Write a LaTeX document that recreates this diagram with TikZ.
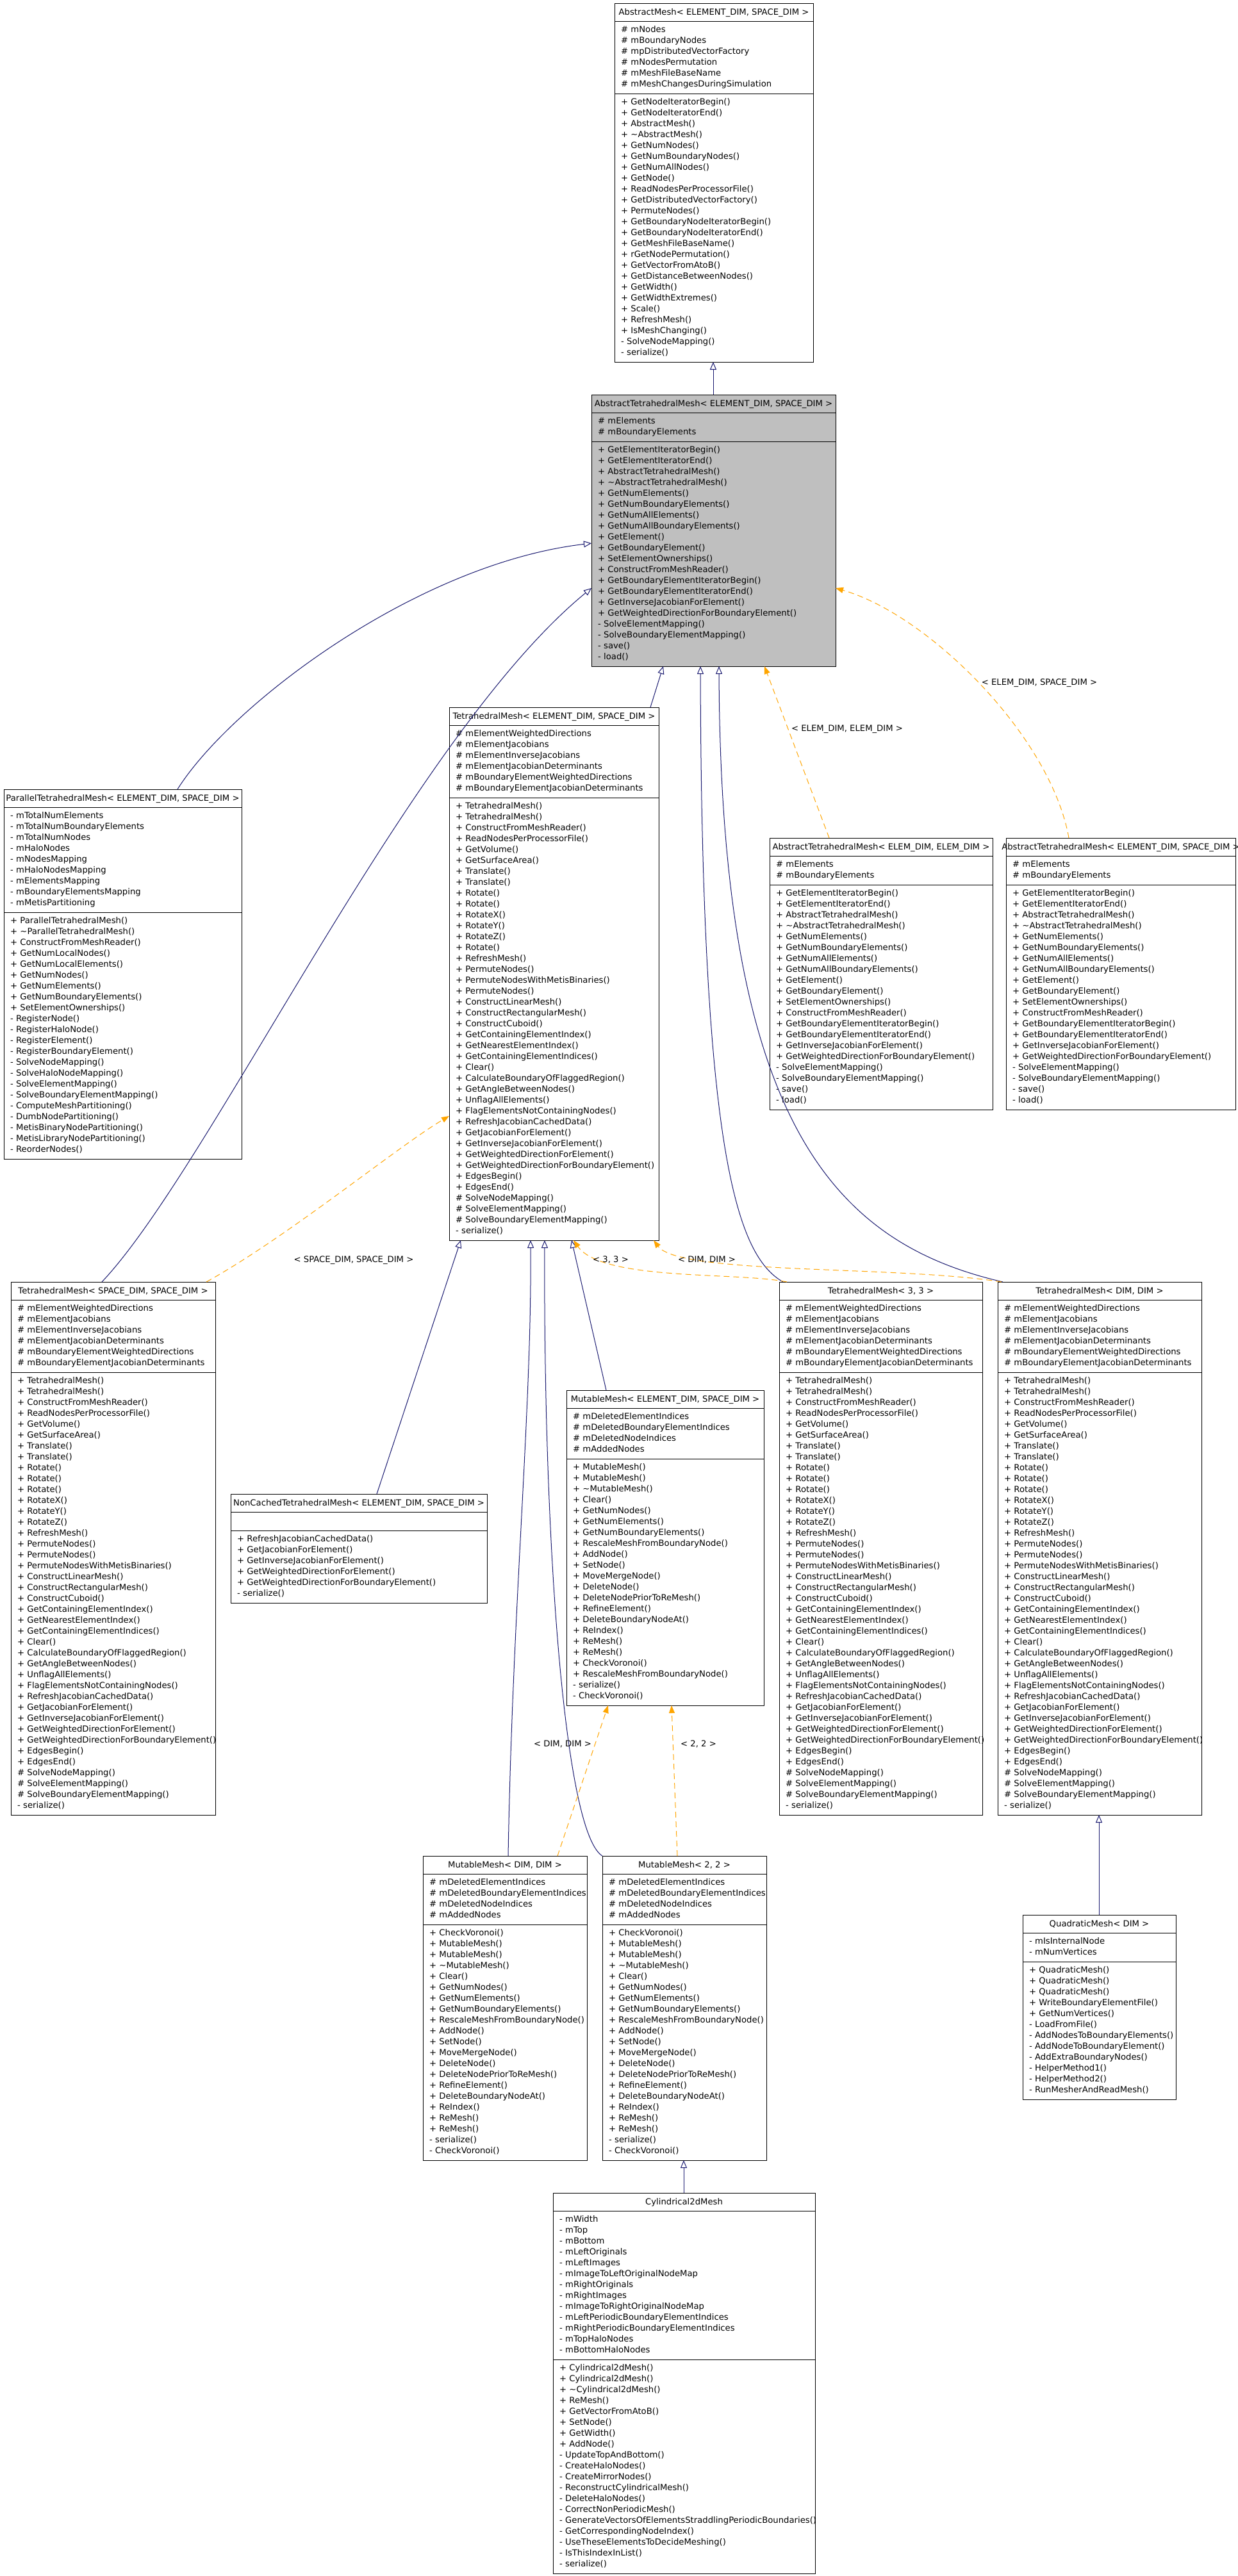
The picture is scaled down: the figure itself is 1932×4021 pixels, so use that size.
\documentclass[tikz,border=0pt]{standalone}
\usepackage{fontspec}
\setmainfont{DejaVu Sans}
\usetikzlibrary{arrows.meta}
\definecolor{edgeblue}{HTML}{191970}
\definecolor{edgeorange}{HTML}{FFA500}
\definecolor{boxgray}{HTML}{BFBFBF}
\newcommand\umlfont{\fontsize{13.2}{17}\selectfont}
\newcommand\ClassStart[5]{%
  \xdef\cid{#1}\xdef\cxa{#2}\xdef\cya{#3}\xdef\cxb{#4}%
  \pgfmathsetmacro\cxm{(#2+#4)/2}%
  \node[hdr] (#1-head) at (\cxm,#3+18.5) {#5};%
  \pgfmathsetmacro\tmpy{#3+28}\xdef\cy{\tmpy}%
  \draw[sepline] (#2,\cy) -- (#4,\cy);%
}
\newcommand\ClassAttrs[2]{%
  \foreach \mline [count=\i] in {#2} {\node[mem] (\cid-a\i) at (\cxa+10,\cy+\i*17) {\mline};}%
  \pgfmathsetmacro\tmpy{\cy+#1*17+11}\xdef\cy{\tmpy}%
  \draw[sepline] (\cxa,\cy) -- (\cxb,\cy);%
}
\newcommand\ClassEmpty{%
  \pgfmathsetmacro\tmpy{\cy+29}\xdef\cy{\tmpy}%
  \draw[sepline] (\cxa,\cy) -- (\cxb,\cy);%
}
\newcommand\ClassMeths[2]{%
  \foreach \mline [count=\i] in {#2} {\node[mem] (\cid-m\i) at (\cxa+10,\cy+\i*17) {\mline};}%
  \pgfmathsetmacro\tmpy{\cy+#1*17+11}\xdef\cy{\tmpy}%
  \pgfmathsetmacro\bw{\cxb-\cxa}\pgfmathsetmacro\bh{\cy-\cya}%
  \node[umlbox,minimum width=\bw pt,minimum height=\bh pt] (\cid) at (\cxa,\cya) {};%
}
\begin{document}
\begin{tikzpicture}[x=1pt,y=-1pt,
  mem/.style={anchor=base west,inner sep=0pt,font=\umlfont},
  hdr/.style={anchor=base,inner sep=0pt,font=\umlfont},
  lbl/.style={anchor=base,inner sep=0pt,font=\umlfont},
  umlbox/.style={draw=black,line width=1pt,inner sep=0pt,outer sep=0pt,anchor=north west},
  sepline/.style={draw=black,line width=1pt},
  inh/.style={draw=edgeblue,line width=1pt,-{Triangle[open,length=12pt,width=10pt]}},
  tpl/.style={draw=edgeorange,line width=1pt,dash pattern=on 9pt off 6pt,-{Triangle[length=12pt,width=9pt,fill=edgeorange]}}]
\useasboundingbox[fill=white] (0,0) rectangle (1932,4021);

% AbstractMesh
\ClassStart{am}{959}{5}{1269}{AbstractMesh< ELEMENT\_DIM, SPACE\_DIM >}
\ClassAttrs{6}{\# mNodes, \# mBoundaryNodes, \# mpDistributedVectorFactory, \# mNodesPermutation, \# mMeshFileBaseName, \# mMeshChangesDuringSimulation}
\ClassMeths{24}{+ GetNodeIteratorBegin(), + GetNodeIteratorEnd(), + AbstractMesh(), + \textasciitilde AbstractMesh(), + GetNumNodes(), + GetNumBoundaryNodes(), + GetNumAllNodes(), + GetNode(), + ReadNodesPerProcessorFile(), + GetDistributedVectorFactory(), + PermuteNodes(), + GetBoundaryNodeIteratorBegin(), + GetBoundaryNodeIteratorEnd(), + GetMeshFileBaseName(), + rGetNodePermutation(), + GetVectorFromAtoB(), + GetDistanceBetweenNodes(), + GetWidth(), + GetWidthExtremes(), + Scale(), + RefreshMesh(), + IsMeshChanging(), - SolveNodeMapping(), - serialize()}

% AbstractTetrahedralMesh (gray)
\fill[boxgray] (923,616) rectangle (1304,1040);
\ClassStart{atm}{923}{616}{1304}{AbstractTetrahedralMesh< ELEMENT\_DIM, SPACE\_DIM >}
\ClassAttrs{2}{\# mElements, \# mBoundaryElements}
\ClassMeths{20}{+ GetElementIteratorBegin(), + GetElementIteratorEnd(), + AbstractTetrahedralMesh(), + \textasciitilde AbstractTetrahedralMesh(), + GetNumElements(), + GetNumBoundaryElements(), + GetNumAllElements(), + GetNumAllBoundaryElements(), + GetElement(), + GetBoundaryElement(), + SetElementOwnerships(), + ConstructFromMeshReader(), + GetBoundaryElementIteratorBegin(), + GetBoundaryElementIteratorEnd(), + GetInverseJacobianForElement(), + GetWeightedDirectionForBoundaryElement(), - SolveElementMapping(), - SolveBoundaryElementMapping(), - save(), - load()}

% ParallelTetrahedralMesh
\ClassStart{par}{6}{1232}{377}{ParallelTetrahedralMesh< ELEMENT\_DIM, SPACE\_DIM >}
\ClassAttrs{9}{- mTotalNumElements, - mTotalNumBoundaryElements, - mTotalNumNodes, - mHaloNodes, - mNodesMapping, - mHaloNodesMapping, - mElementsMapping, - mBoundaryElementsMapping, - mMetisPartitioning}
\ClassMeths{22}{+ ParallelTetrahedralMesh(), + \textasciitilde ParallelTetrahedralMesh(), + ConstructFromMeshReader(), + GetNumLocalNodes(), + GetNumLocalElements(), + GetNumNodes(), + GetNumElements(), + GetNumBoundaryElements(), + SetElementOwnerships(), - RegisterNode(), - RegisterHaloNode(), - RegisterElement(), - RegisterBoundaryElement(), - SolveNodeMapping(), - SolveHaloNodeMapping(), - SolveElementMapping(), - SolveBoundaryElementMapping(), - ComputeMeshPartitioning(), - DumbNodePartitioning(), - MetisBinaryNodePartitioning(), - MetisLibraryNodePartitioning(), - ReorderNodes()}

% TetrahedralMesh template
\ClassStart{tm}{701}{1104}{1028}{TetrahedralMesh< ELEMENT\_DIM, SPACE\_DIM >}
\ClassAttrs{6}{\# mElementWeightedDirections, \# mElementJacobians, \# mElementInverseJacobians, \# mElementJacobianDeterminants, \# mBoundaryElementWeightedDirections, \# mBoundaryElementJacobianDeterminants}
\ClassMeths{40}{+ TetrahedralMesh(), + TetrahedralMesh(), + ConstructFromMeshReader(), + ReadNodesPerProcessorFile(), + GetVolume(), + GetSurfaceArea(), + Translate(), + Translate(), + Rotate(), + Rotate(), + RotateX(), + RotateY(), + RotateZ(), + Rotate(), + RefreshMesh(), + PermuteNodes(), + PermuteNodesWithMetisBinaries(), + PermuteNodes(), + ConstructLinearMesh(), + ConstructRectangularMesh(), + ConstructCuboid(), + GetContainingElementIndex(), + GetNearestElementIndex(), + GetContainingElementIndices(), + Clear(), + CalculateBoundaryOfFlaggedRegion(), + GetAngleBetweenNodes(), + UnflagAllElements(), + FlagElementsNotContainingNodes(), + RefreshJacobianCachedData(), + GetJacobianForElement(), + GetInverseJacobianForElement(), + GetWeightedDirectionForElement(), + GetWeightedDirectionForBoundaryElement(), + EdgesBegin(), + EdgesEnd(), \# SolveNodeMapping(), \# SolveElementMapping(), \# SolveBoundaryElementMapping(), - serialize()}

% AbstractTetrahedralMesh< ELEM_DIM, ELEM_DIM >
\ClassStart{atmee}{1201}{1308}{1549}{AbstractTetrahedralMesh< ELEM\_DIM, ELEM\_DIM >}
\ClassAttrs{2}{\# mElements, \# mBoundaryElements}
\ClassMeths{20}{+ GetElementIteratorBegin(), + GetElementIteratorEnd(), + AbstractTetrahedralMesh(), + \textasciitilde AbstractTetrahedralMesh(), + GetNumElements(), + GetNumBoundaryElements(), + GetNumAllElements(), + GetNumAllBoundaryElements(), + GetElement(), + GetBoundaryElement(), + SetElementOwnerships(), + ConstructFromMeshReader(), + GetBoundaryElementIteratorBegin(), + GetBoundaryElementIteratorEnd(), + GetInverseJacobianForElement(), + GetWeightedDirectionForBoundaryElement(), - SolveElementMapping(), - SolveBoundaryElementMapping(), - save(), - load()}

% AbstractTetrahedralMesh< ELEMENT_DIM, SPACE_DIM > (right)
\ClassStart{atmes}{1570}{1308}{1928}{AbstractTetrahedralMesh< ELEMENT\_DIM, SPACE\_DIM >}
\ClassAttrs{2}{\# mElements, \# mBoundaryElements}
\ClassMeths{20}{+ GetElementIteratorBegin(), + GetElementIteratorEnd(), + AbstractTetrahedralMesh(), + \textasciitilde AbstractTetrahedralMesh(), + GetNumElements(), + GetNumBoundaryElements(), + GetNumAllElements(), + GetNumAllBoundaryElements(), + GetElement(), + GetBoundaryElement(), + SetElementOwnerships(), + ConstructFromMeshReader(), + GetBoundaryElementIteratorBegin(), + GetBoundaryElementIteratorEnd(), + GetInverseJacobianForElement(), + GetWeightedDirectionForBoundaryElement(), - SolveElementMapping(), - SolveBoundaryElementMapping(), - save(), - load()}

% TetrahedralMesh instantiations
\ClassStart{tmss}{17}{2001}{336}{TetrahedralMesh< SPACE\_DIM, SPACE\_DIM >}
\ClassAttrs{6}{\# mElementWeightedDirections, \# mElementJacobians, \# mElementInverseJacobians, \# mElementJacobianDeterminants, \# mBoundaryElementWeightedDirections, \# mBoundaryElementJacobianDeterminants}
\ClassMeths{40}{+ TetrahedralMesh(), + TetrahedralMesh(), + ConstructFromMeshReader(), + ReadNodesPerProcessorFile(), + GetVolume(), + GetSurfaceArea(), + Translate(), + Translate(), + Rotate(), + Rotate(), + Rotate(), + RotateX(), + RotateY(), + RotateZ(), + RefreshMesh(), + PermuteNodes(), + PermuteNodes(), + PermuteNodesWithMetisBinaries(), + ConstructLinearMesh(), + ConstructRectangularMesh(), + ConstructCuboid(), + GetContainingElementIndex(), + GetNearestElementIndex(), + GetContainingElementIndices(), + Clear(), + CalculateBoundaryOfFlaggedRegion(), + GetAngleBetweenNodes(), + UnflagAllElements(), + FlagElementsNotContainingNodes(), + RefreshJacobianCachedData(), + GetJacobianForElement(), + GetInverseJacobianForElement(), + GetWeightedDirectionForElement(), + GetWeightedDirectionForBoundaryElement(), + EdgesBegin(), + EdgesEnd(), \# SolveNodeMapping(), \# SolveElementMapping(), \# SolveBoundaryElementMapping(), - serialize()}

\ClassStart{tmtt}{1216}{2001}{1533}{TetrahedralMesh< 3, 3 >}
\ClassAttrs{6}{\# mElementWeightedDirections, \# mElementJacobians, \# mElementInverseJacobians, \# mElementJacobianDeterminants, \# mBoundaryElementWeightedDirections, \# mBoundaryElementJacobianDeterminants}
\ClassMeths{40}{+ TetrahedralMesh(), + TetrahedralMesh(), + ConstructFromMeshReader(), + ReadNodesPerProcessorFile(), + GetVolume(), + GetSurfaceArea(), + Translate(), + Translate(), + Rotate(), + Rotate(), + Rotate(), + RotateX(), + RotateY(), + RotateZ(), + RefreshMesh(), + PermuteNodes(), + PermuteNodes(), + PermuteNodesWithMetisBinaries(), + ConstructLinearMesh(), + ConstructRectangularMesh(), + ConstructCuboid(), + GetContainingElementIndex(), + GetNearestElementIndex(), + GetContainingElementIndices(), + Clear(), + CalculateBoundaryOfFlaggedRegion(), + GetAngleBetweenNodes(), + UnflagAllElements(), + FlagElementsNotContainingNodes(), + RefreshJacobianCachedData(), + GetJacobianForElement(), + GetInverseJacobianForElement(), + GetWeightedDirectionForElement(), + GetWeightedDirectionForBoundaryElement(), + EdgesBegin(), + EdgesEnd(), \# SolveNodeMapping(), \# SolveElementMapping(), \# SolveBoundaryElementMapping(), - serialize()}

\ClassStart{tmdd}{1557}{2001}{1875}{TetrahedralMesh< DIM, DIM >}
\ClassAttrs{6}{\# mElementWeightedDirections, \# mElementJacobians, \# mElementInverseJacobians, \# mElementJacobianDeterminants, \# mBoundaryElementWeightedDirections, \# mBoundaryElementJacobianDeterminants}
\ClassMeths{40}{+ TetrahedralMesh(), + TetrahedralMesh(), + ConstructFromMeshReader(), + ReadNodesPerProcessorFile(), + GetVolume(), + GetSurfaceArea(), + Translate(), + Translate(), + Rotate(), + Rotate(), + Rotate(), + RotateX(), + RotateY(), + RotateZ(), + RefreshMesh(), + PermuteNodes(), + PermuteNodes(), + PermuteNodesWithMetisBinaries(), + ConstructLinearMesh(), + ConstructRectangularMesh(), + ConstructCuboid(), + GetContainingElementIndex(), + GetNearestElementIndex(), + GetContainingElementIndices(), + Clear(), + CalculateBoundaryOfFlaggedRegion(), + GetAngleBetweenNodes(), + UnflagAllElements(), + FlagElementsNotContainingNodes(), + RefreshJacobianCachedData(), + GetJacobianForElement(), + GetInverseJacobianForElement(), + GetWeightedDirectionForElement(), + GetWeightedDirectionForBoundaryElement(), + EdgesBegin(), + EdgesEnd(), \# SolveNodeMapping(), \# SolveElementMapping(), \# SolveBoundaryElementMapping(), - serialize()}

% MutableMesh template
\ClassStart{mmes}{884}{2170}{1192}{MutableMesh< ELEMENT\_DIM, SPACE\_DIM >}
\ClassAttrs{4}{\# mDeletedElementIndices, \# mDeletedBoundaryElementIndices, \# mDeletedNodeIndices, \# mAddedNodes}
\ClassMeths{22}{+ MutableMesh(), + MutableMesh(), + \textasciitilde MutableMesh(), + Clear(), + GetNumNodes(), + GetNumElements(), + GetNumBoundaryElements(), + RescaleMeshFromBoundaryNode(), + AddNode(), + SetNode(), + MoveMergeNode(), + DeleteNode(), + DeleteNodePriorToReMesh(), + RefineElement(), + DeleteBoundaryNodeAt(), + ReIndex(), + ReMesh(), + ReMesh(), + CheckVoronoi(), + RescaleMeshFromBoundaryNode(), - serialize(), - CheckVoronoi()}

% NonCachedTetrahedralMesh
\ClassStart{nc}{360}{2332}{760}{NonCachedTetrahedralMesh< ELEMENT\_DIM, SPACE\_DIM >}
\ClassEmpty
\ClassMeths{6}{+ RefreshJacobianCachedData(), + GetJacobianForElement(), + GetInverseJacobianForElement(), + GetWeightedDirectionForElement(), + GetWeightedDirectionForBoundaryElement(), - serialize()}

% MutableMesh instantiations
\ClassStart{mmdd}{660}{2897}{916}{MutableMesh< DIM, DIM >}
\ClassAttrs{4}{\# mDeletedElementIndices, \# mDeletedBoundaryElementIndices, \# mDeletedNodeIndices, \# mAddedNodes}
\ClassMeths{21}{+ CheckVoronoi(), + MutableMesh(), + MutableMesh(), + \textasciitilde MutableMesh(), + Clear(), + GetNumNodes(), + GetNumElements(), + GetNumBoundaryElements(), + RescaleMeshFromBoundaryNode(), + AddNode(), + SetNode(), + MoveMergeNode(), + DeleteNode(), + DeleteNodePriorToReMesh(), + RefineElement(), + DeleteBoundaryNodeAt(), + ReIndex(), + ReMesh(), + ReMesh(), - serialize(), - CheckVoronoi()}

\ClassStart{mmtt}{940}{2897}{1196}{MutableMesh< 2, 2 >}
\ClassAttrs{4}{\# mDeletedElementIndices, \# mDeletedBoundaryElementIndices, \# mDeletedNodeIndices, \# mAddedNodes}
\ClassMeths{21}{+ CheckVoronoi(), + MutableMesh(), + MutableMesh(), + \textasciitilde MutableMesh(), + Clear(), + GetNumNodes(), + GetNumElements(), + GetNumBoundaryElements(), + RescaleMeshFromBoundaryNode(), + AddNode(), + SetNode(), + MoveMergeNode(), + DeleteNode(), + DeleteNodePriorToReMesh(), + RefineElement(), + DeleteBoundaryNodeAt(), + ReIndex(), + ReMesh(), + ReMesh(), - serialize(), - CheckVoronoi()}

% QuadraticMesh
\ClassStart{qm}{1596}{2989}{1835}{QuadraticMesh< DIM >}
\ClassAttrs{2}{- mIsInternalNode, - mNumVertices}
\ClassMeths{12}{+ QuadraticMesh(), + QuadraticMesh(), + QuadraticMesh(), + WriteBoundaryElementFile(), + GetNumVertices(), - LoadFromFile(), - AddNodesToBoundaryElements(), - AddNodeToBoundaryElement(), - AddExtraBoundaryNodes(), - HelperMethod1(), - HelperMethod2(), - RunMesherAndReadMesh()}

% Cylindrical2dMesh
\ClassStart{cyl}{863}{3423}{1272}{Cylindrical2dMesh}
\ClassAttrs{13}{- mWidth, - mTop, - mBottom, - mLeftOriginals, - mLeftImages, - mImageToLeftOriginalNodeMap, - mRightOriginals, - mRightImages, - mImageToRightOriginalNodeMap, - mLeftPeriodicBoundaryElementIndices, - mRightPeriodicBoundaryElementIndices, - mTopHaloNodes, - mBottomHaloNodes}
\ClassMeths{19}{+ Cylindrical2dMesh(), + Cylindrical2dMesh(), + \textasciitilde Cylindrical2dMesh(), + ReMesh(), + GetVectorFromAtoB(), + SetNode(), + GetWidth(), + AddNode(), - UpdateTopAndBottom(), - CreateHaloNodes(), - CreateMirrorNodes(), - ReconstructCylindricalMesh(), - DeleteHaloNodes(), - CorrectNonPeriodicMesh(), - GenerateVectorsOfElementsStraddlingPeriodicBoundaries(), - GetCorrespondingNodeIndex(), - UseTheseElementsToDecideMeshing(), - IsThisIndexInList(), - serialize()}

% ---- inheritance connectors ----
\draw[inh] ([xshift=190pt]atm.north west) -- ([xshift=154pt]am.south west);
\draw[inh] ([xshift=271pt]par.north west) .. controls (360,1100) and (650,880) .. ([yshift=-232pt]atm.north west);
\draw[inh] ([xshift=142pt]tmss.north west) .. controls (330,1820) and (640,1150) .. ([yshift=-302pt]atm.north west);
\draw[inh] ([xshift=314pt]tm.north west) -- ([xshift=112pt]atm.south west);
\draw[inh] ([xshift=6pt]tmtt.north west) .. controls (1150,1960) and (1095,1800) .. ([xshift=170pt]atm.south west);
\draw[inh] ([xshift=8pt]tmdd.north west) .. controls (1300,1940) and (1125,1750) .. ([xshift=199pt]atm.south west);
\draw[inh] ([xshift=228pt]nc.north west) -- ([xshift=18pt]tm.south west);
\draw[inh] ([xshift=62pt]mmes.north west) -- ([xshift=191pt]tm.south west);
\draw[inh] ([xshift=133pt]mmdd.north west) .. controls (800,2500) and (830,2200) .. ([xshift=127pt]tm.south west);
\draw[inh] (mmtt.north west) .. controls (880,2860) and (848,2400) .. ([xshift=149pt]tm.south west);
\draw[inh] ([xshift=204pt]cyl.north west) -- ([xshift=127pt]mmtt.south west);
\draw[inh] ([xshift=119pt]qm.north west) -- ([xshift=158pt]tmdd.south west);

% ---- template instantiation connectors ----
\draw[tpl] ([xshift=93pt]atmee.north west) -- ([xshift=270pt]atm.south west);
\node[lbl] (l-ee) at (1322,1141) {< ELEM\_DIM, ELEM\_DIM >};
\draw[tpl] ([xshift=98pt]atmes.north west) .. controls (1640,1150) and (1450,960) .. ([yshift=-302pt]atm.north east);
\node[lbl] (l-es) at (1622,1069) {< ELEM\_DIM, SPACE\_DIM >};
\draw[tpl] ([xshift=305pt]tmss.north west) .. controls (450,1930) and (620,1790) .. ([yshift=-638pt]tm.north west);
\node[lbl] (l-ss) at (552,1970) {< SPACE\_DIM, SPACE\_DIM >};
\draw[tpl] ([xshift=12pt]tmtt.north west) .. controls (1150,1985) and (940,2000) .. ([xshift=194pt]tm.south west);
\node[lbl] (l-33) at (953,1970) {< 3, 3 >};
\draw[tpl] ([xshift=6pt]tmdd.north west) .. controls (1400,1975) and (1060,1990) .. ([xshift=319pt]tm.south west);
\node[lbl] (l-dd) at (1103,1970) {< DIM, DIM >};
\draw[tpl] ([xshift=210pt]mmdd.north west) -- ([xshift=65pt]mmes.south west);
\node[lbl] (l-mdd) at (878,2726) {< DIM, DIM >};
\draw[tpl] ([xshift=117pt]mmtt.north west) -- ([xshift=164pt]mmes.south west);
\node[lbl] (l-m22) at (1090,2726) {< 2, 2 >};
\end{tikzpicture}
\end{document}
